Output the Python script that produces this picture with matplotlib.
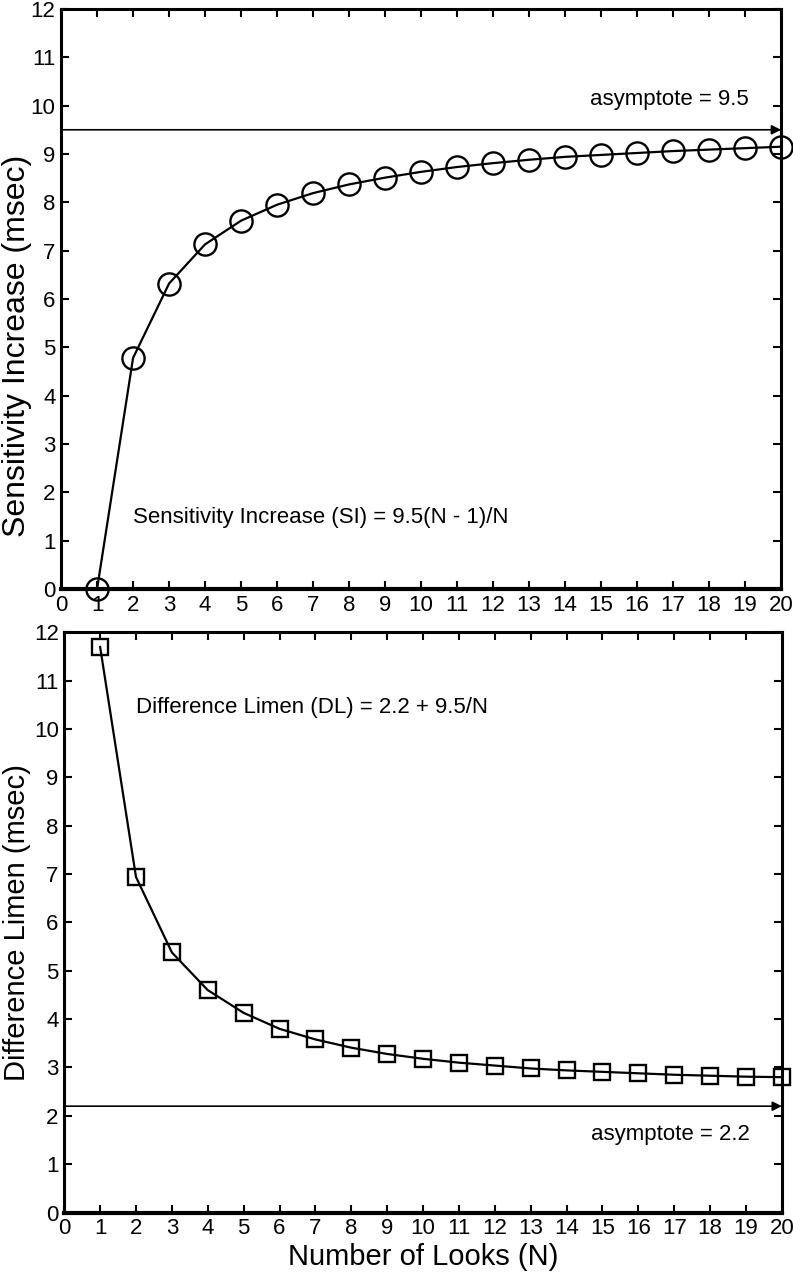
import matplotlib
matplotlib.use("Agg")
import matplotlib.pyplot as plt

plt.rcParams['font.family'] = ['Liberation Sans', 'DejaVu Sans']

looks = list(range(1, 21))
# values
si_values = [0.0, 4.78, 6.32, 7.13, 7.62, 7.95, 8.19, 8.37, 8.51, 8.63,
             8.73, 8.81, 8.88, 8.94, 8.98, 9.02, 9.06, 9.09, 9.12, 9.15]
dl_values = [11.70, 6.94, 5.38, 4.60, 4.13, 3.80, 3.58, 3.41, 3.28, 3.18,
             3.10, 3.04, 2.98, 2.94, 2.91, 2.88, 2.85, 2.83, 2.81, 2.80]
x_ticks = list(range(0, 21))
y_ticks = list(range(0, 13))
si_asymptote = 9.5
dl_asymptote = 2.2

fig = plt.figure(figsize=(7.93, 12.75), dpi=100)
ax1 = fig.add_axes([0.077, 0.538, 0.908, 0.455])
ax2 = fig.add_axes([0.081, 0.049, 0.905, 0.455])


def style_axes(ax):
    ax.set_xlim(0, 20)
    ax.set_ylim(0, 12)
    ax.set_xticks(x_ticks)
    ax.set_yticks(y_ticks)
    ax.tick_params(direction='in', length=6, width=1.5, top=True, right=True,
                   labelsize=16, pad=4)
    for s in ax.spines.values():
        s.set_linewidth(2.2)
    ax.spines['bottom'].set_linewidth(3)


style_axes(ax1)
ax1.plot(looks, si_values, color='black', lw=1.6, marker='o', ms=16,
         mfc='none', mec='black', mew=1.7, clip_on=False, zorder=5)
ax1.annotate('', xy=(20, si_asymptote), xytext=(0, si_asymptote),
             arrowprops=dict(arrowstyle='-|>', color='black', lw=1.2,
                             mutation_scale=14, shrinkA=0, shrinkB=0))
ax1.text(19.1, 10.12, 'asymptote = 9.5', fontsize=16, va='center', ha='right')
ax1.text(2.0, 1.47, 'Sensitivity Increase (SI) = 9.5(N - 1)/N', fontsize=16,
         va='center', ha='left')
ax1.set_ylabel('Sensitivity Increase (msec)', fontsize=23)
ax1.yaxis.set_label_coords(-0.040, 0.42)

style_axes(ax2)
ax2.plot(looks, dl_values, color='black', lw=1.6, marker='s', ms=12,
         mfc='none', mec='black', mew=1.7, clip_on=False, zorder=5)
ax2.annotate('', xy=(20, dl_asymptote), xytext=(0, dl_asymptote),
             arrowprops=dict(arrowstyle='-|>', color='black', lw=1.2,
                             mutation_scale=14, shrinkA=0, shrinkB=0))
ax2.text(19.1, 1.62, 'asymptote = 2.2', fontsize=16, va='center', ha='right')
ax2.text(2.0, 10.45, 'Difference Limen (DL) = 2.2 + 9.5/N', fontsize=16,
         va='center', ha='left')
ax2.set_ylabel('Difference Limen (msec)', fontsize=21)
ax2.yaxis.set_label_coords(-0.047, 0.5)
ax2.set_xlabel('Number of Looks (N)', fontsize=21, labelpad=3)

fig.savefig('out.png', dpi=100)
